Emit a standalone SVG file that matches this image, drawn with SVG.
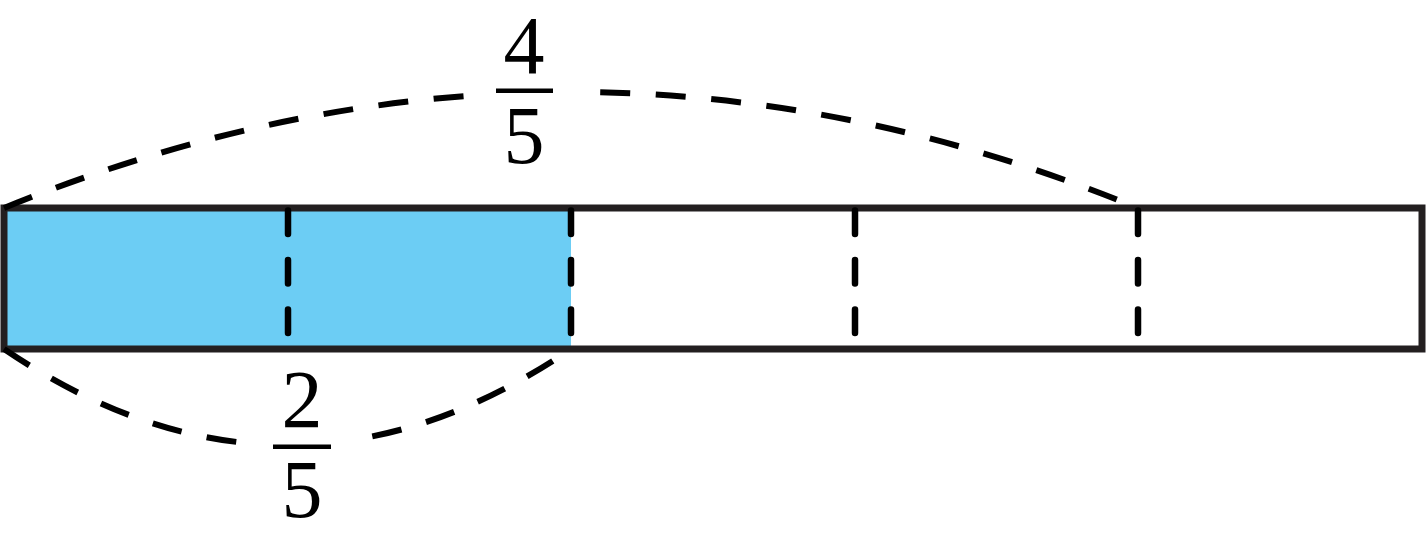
<svg xmlns="http://www.w3.org/2000/svg" width="1426" height="543" viewBox="0 0 1426 543">
<style>
.frame{fill:none;stroke:#231f20;stroke-width:7}
.div{fill:none;stroke:#000;stroke-width:6.5;stroke-linecap:round;stroke-dasharray:23.5 26}
.arc{fill:none;stroke:#000;stroke-width:6;stroke-dasharray:30 25.6}
.num{font-family:"Liberation Serif","DejaVu Serif",serif;font-size:82px;fill:#000;text-anchor:middle}
.bar{stroke:#000;stroke-width:4.5}
.mask{fill:#fff}
</style>
<rect width="1426" height="543" fill="#fff"/>
<g id="bar">
<rect x="4" y="208" width="567" height="141" fill="#6ccdf4"/>
<rect class="frame" x="4" y="208" width="1418" height="141"/>
</g>
<g id="dividers">
<line class="div" x1="288" y1="210.5" x2="288" y2="334"/>
<line class="div" x1="571" y1="210.5" x2="571" y2="334"/>
<line class="div" x1="855" y1="210.5" x2="855" y2="334"/>
<line class="div" x1="1138" y1="210.5" x2="1138" y2="334"/>
</g>
<g id="connectors">
<path class="arc" d="M4,208 Q571,-24 1138,208"/>
<path class="arc" d="M4,349 Q287.5,541 571,349"/>
</g>
<g id="label-4-5">
<rect class="mask" x="475" y="78" width="103" height="28"/>
<text class="num" x="524" y="73">4</text>
<line class="bar" x1="496" y1="90.7" x2="553" y2="90.7"/>
<text class="num" x="524" y="163">5</text>
</g>
<g id="label-2-5">
<rect class="mask" x="242" y="428" width="120" height="28"/>
<text class="num" x="302" y="427">2</text>
<line class="bar" x1="273" y1="446.7" x2="331" y2="446.7"/>
<text class="num" x="302" y="517">5</text>
</g>
</svg>
